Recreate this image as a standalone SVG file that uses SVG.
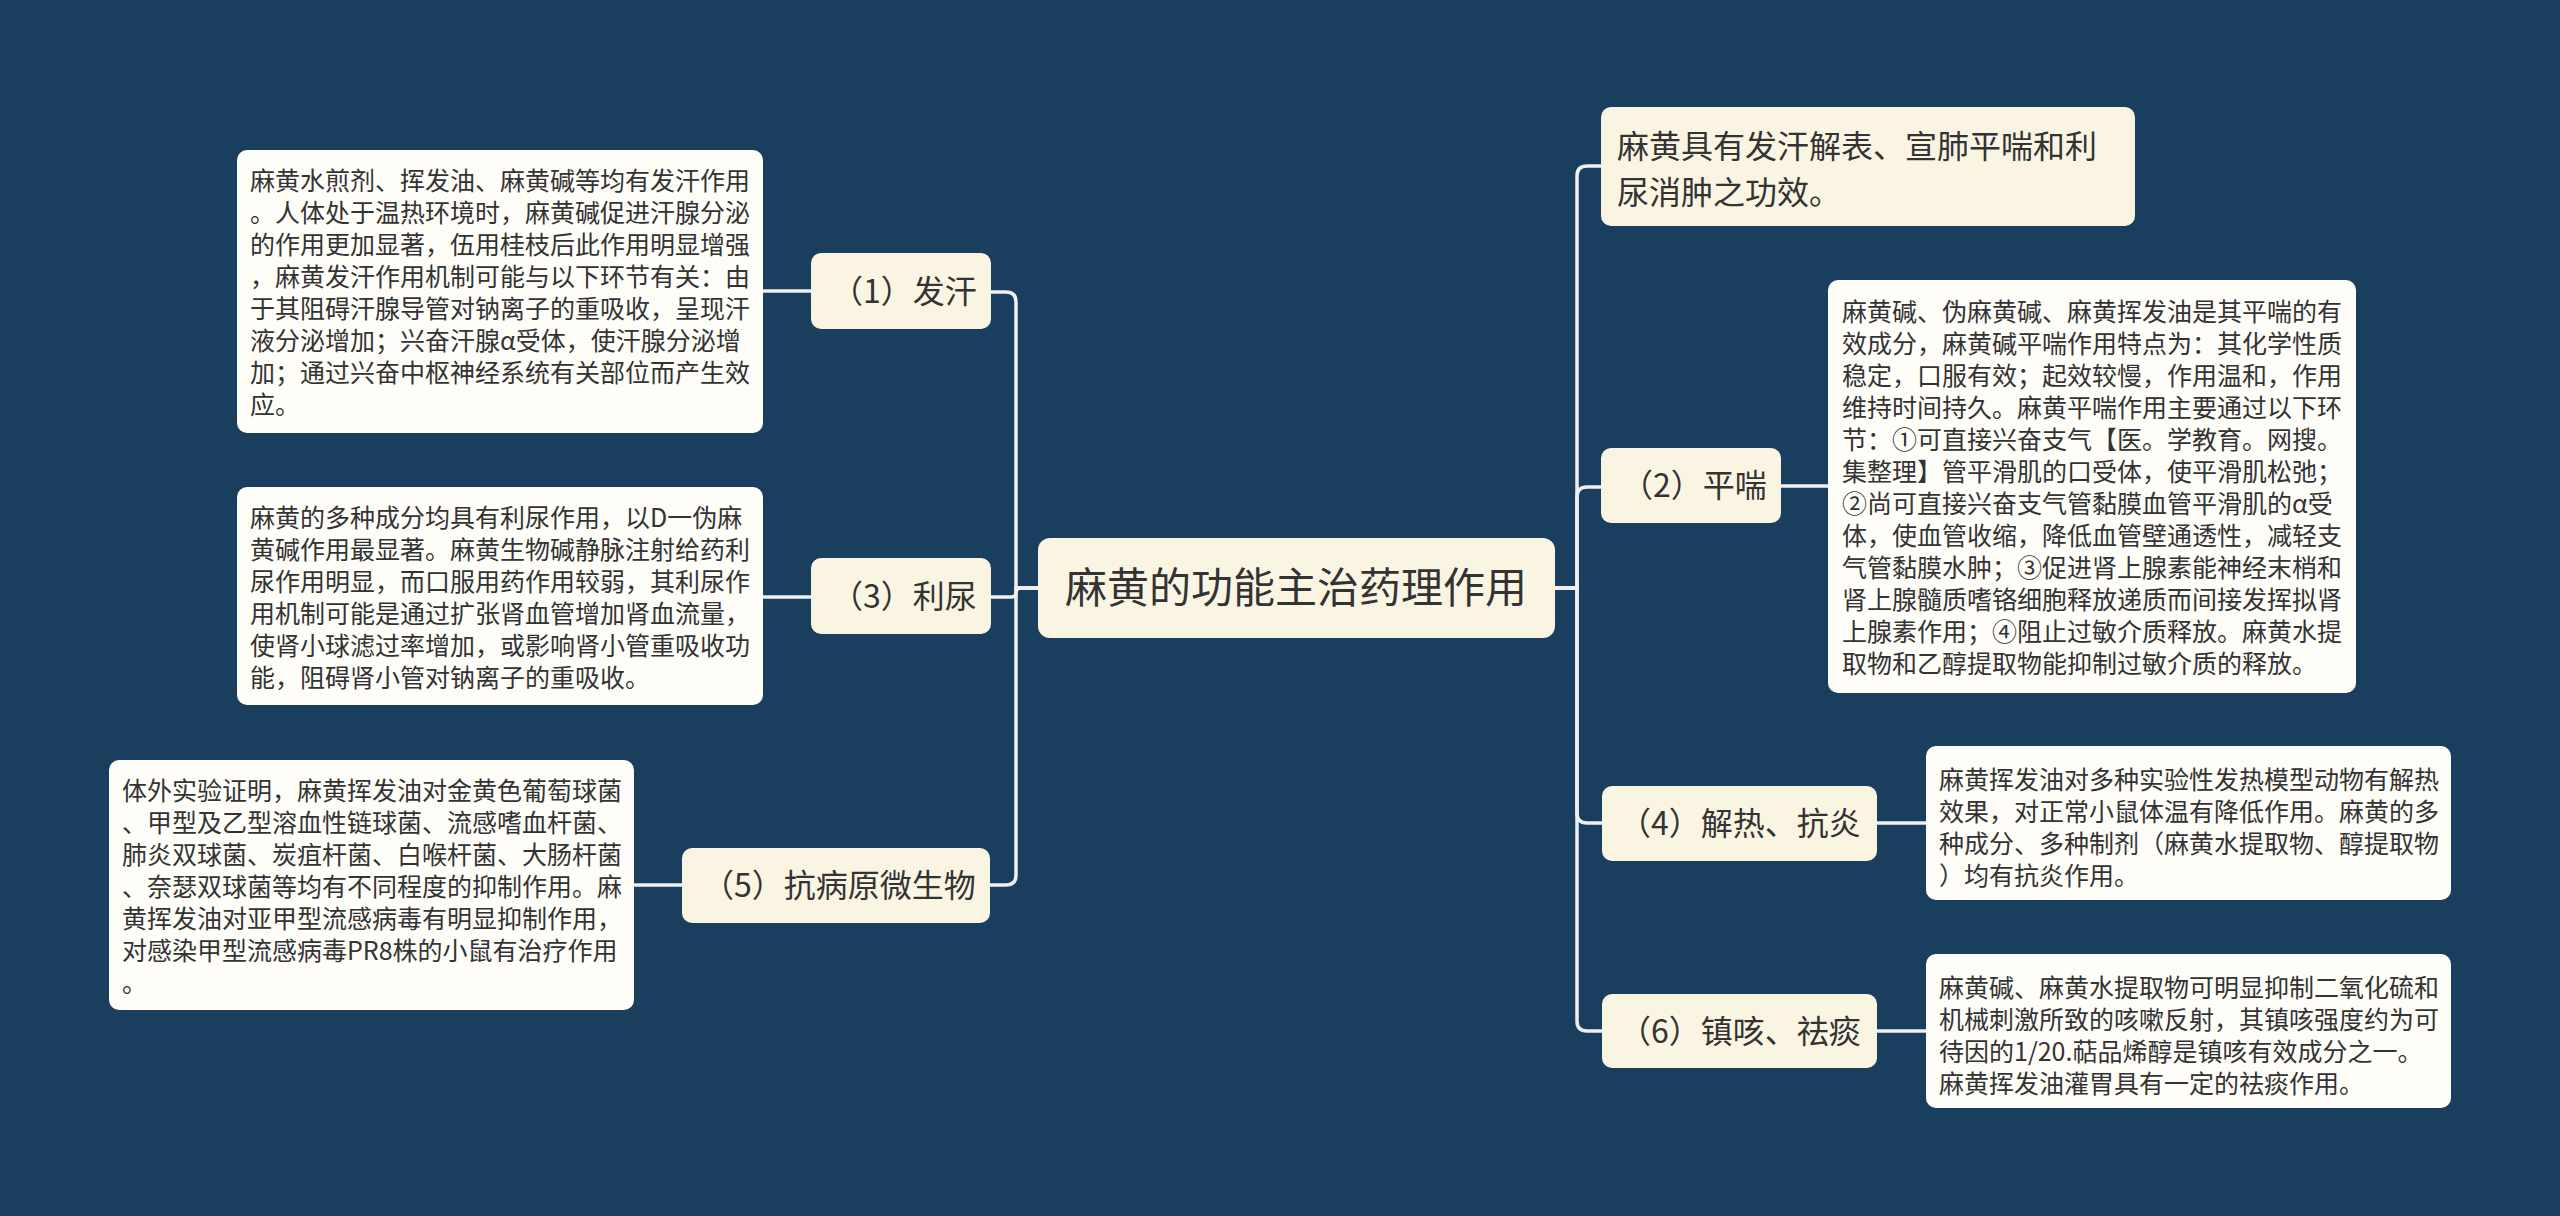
<svg xmlns="http://www.w3.org/2000/svg" width="2560" height="1216" viewBox="0 0 2560 1216">
<style>
.bg{fill:#1a3e5e}
.topic{fill:#faf5e3}
.detail{fill:#fefdf8}
.conn{fill:none;stroke:#eef0f2;stroke-width:3.5;stroke-linecap:round}
text{font-family:"Noto Sans CJK SC","Noto Sans",sans-serif;fill:#333333}
.t42{font-size:42px}
.t32{font-size:32px}
.t25{font-size:25px}
</style>
<rect class="bg" x="0" y="0" width="2560" height="1216"/>
<g id="connectors">
<path class="conn" d="M1038 588 H1016 V302 Q1016 292 1006 292 H991"/>
<path class="conn" d="M1038 588 H1021 Q1016 588 1016 593 Q1016 597 1011 597 H991"/>
<path class="conn" d="M1038 588 H1016 V875 Q1016 885 1006 885 H990"/>
<path class="conn" d="M1555 588 H1577 V176 Q1577 166 1587 166 H1601"/>
<path class="conn" d="M1555 588 H1577 V497 Q1577 487 1587 487 H1601"/>
<path class="conn" d="M1555 588 H1577 V813 Q1577 823 1587 823 H1602"/>
<path class="conn" d="M1555 588 H1577 V1021 Q1577 1031 1587 1031 H1602"/>
<path class="conn" d="M811 291 H763"/>
<path class="conn" d="M811 597 H763"/>
<path class="conn" d="M682 885 H634"/>
<path class="conn" d="M1781 486 H1828"/>
<path class="conn" d="M1877 823 H1926"/>
<path class="conn" d="M1877 1031 H1926"/>
</g>
<g id="root">
<rect class="topic" x="1038" y="538" width="517" height="100" rx="12"/>
<text class="t42" x="1296" y="603" text-anchor="middle">麻黄的功能主治药理作用</text>
</g>
<g id="n1">
<rect class="topic" x="811" y="253" width="180" height="76" rx="10"/>
<text class="t32" x="831" y="303">（1）发汗</text>
</g>
<g id="n1d">
<rect class="detail" x="237" y="150" width="526" height="283" rx="10"/>
<text class="t25">
<tspan x="250" y="190">麻黄水煎剂、挥发油、麻黄碱等均有发汗作用</tspan>
<tspan x="250" y="222">。人体处于温热环境时，麻黄碱促进汗腺分泌</tspan>
<tspan x="250" y="254">的作用更加显著，伍用桂枝后此作用明显增强</tspan>
<tspan x="250" y="286">，麻黄发汗作用机制可能与以下环节有关：由</tspan>
<tspan x="250" y="318">于其阻碍汗腺导管对钠离子的重吸收，呈现汗</tspan>
<tspan x="250" y="350">液分泌增加；兴奋汗腺α受体，使汗腺分泌增</tspan>
<tspan x="250" y="382">加；通过兴奋中枢神经系统有关部位而产生效</tspan>
<tspan x="250" y="414">应。</tspan>
</text>
</g>
<g id="n3">
<rect class="topic" x="811" y="558" width="180" height="76" rx="10"/>
<text class="t32" x="831" y="608">（3）利尿</text>
</g>
<g id="n3d">
<rect class="detail" x="237" y="487" width="526" height="218" rx="10"/>
<text class="t25">
<tspan x="250" y="527">麻黄的多种成分均具有利尿作用，以D一伪麻</tspan>
<tspan x="250" y="559">黄碱作用最显著。麻黄生物碱静脉注射给药利</tspan>
<tspan x="250" y="591">尿作用明显，而口服用药作用较弱，其利尿作</tspan>
<tspan x="250" y="623">用机制可能是通过扩张肾血管增加肾血流量，</tspan>
<tspan x="250" y="655">使肾小球滤过率增加，或影响肾小管重吸收功</tspan>
<tspan x="250" y="687">能，阻碍肾小管对钠离子的重吸收。</tspan>
</text>
</g>
<g id="n5">
<rect class="topic" x="682" y="848" width="308" height="75" rx="10"/>
<text class="t32" x="702" y="897">（5）抗病原微生物</text>
</g>
<g id="n5d">
<rect class="detail" x="109" y="760" width="525" height="250" rx="10"/>
<text class="t25">
<tspan x="122" y="800">体外实验证明，麻黄挥发油对金黄色葡萄球菌</tspan>
<tspan x="122" y="832">、甲型及乙型溶血性链球菌、流感嗜血杆菌、</tspan>
<tspan x="122" y="864">肺炎双球菌、炭疽杆菌、白喉杆菌、大肠杆菌</tspan>
<tspan x="122" y="896">、奈瑟双球菌等均有不同程度的抑制作用。麻</tspan>
<tspan x="122" y="928">黄挥发油对亚甲型流感病毒有明显抑制作用，</tspan>
<tspan x="122" y="960">对感染甲型流感病毒PR8株的小鼠有治疗作用</tspan>
<tspan x="122" y="992">。</tspan>
</text>
</g>
<g id="n0">
<rect class="topic" x="1601" y="107" width="534" height="119" rx="10"/>
<text class="t32">
<tspan x="1617" y="158">麻黄具有发汗解表、宣肺平喘和利</tspan>
<tspan x="1617" y="204">尿消肿之功效。</tspan>
</text>
</g>
<g id="n2">
<rect class="topic" x="1601" y="448" width="180" height="75" rx="10"/>
<text class="t32" x="1621" y="497">（2）平喘</text>
</g>
<g id="n2d">
<rect class="detail" x="1828" y="280" width="528" height="413" rx="10"/>
<text class="t25">
<tspan x="1842" y="321">麻黄碱、伪麻黄碱、麻黄挥发油是其平喘的有</tspan>
<tspan x="1842" y="353">效成分，麻黄碱平喘作用特点为：其化学性质</tspan>
<tspan x="1842" y="385">稳定，口服有效；起效较慢，作用温和，作用</tspan>
<tspan x="1842" y="417">维持时间持久。麻黄平喘作用主要通过以下环</tspan>
<tspan x="1842" y="449">节：①可直接兴奋支气【医。学教育。网搜。</tspan>
<tspan x="1842" y="481">集整理】管平滑肌的口受体，使平滑肌松弛；</tspan>
<tspan x="1842" y="513">②尚可直接兴奋支气管黏膜血管平滑肌的α受</tspan>
<tspan x="1842" y="545">体，使血管收缩，降低血管壁通透性，减轻支</tspan>
<tspan x="1842" y="577">气管黏膜水肿；③促进肾上腺素能神经末梢和</tspan>
<tspan x="1842" y="609">肾上腺髓质嗜铬细胞释放递质而间接发挥拟肾</tspan>
<tspan x="1842" y="641">上腺素作用；④阻止过敏介质释放。麻黄水提</tspan>
<tspan x="1842" y="673">取物和乙醇提取物能抑制过敏介质的释放。</tspan>
</text>
</g>
<g id="n4">
<rect class="topic" x="1602" y="786" width="275" height="75" rx="10"/>
<text class="t32" x="1619" y="835">（4）解热、抗炎</text>
</g>
<g id="n4d">
<rect class="detail" x="1926" y="746" width="525" height="154" rx="10"/>
<text class="t25">
<tspan x="1939" y="789">麻黄挥发油对多种实验性发热模型动物有解热</tspan>
<tspan x="1939" y="821">效果，对正常小鼠体温有降低作用。麻黄的多</tspan>
<tspan x="1939" y="853">种成分、多种制剂（麻黄水提取物、醇提取物</tspan>
<tspan x="1939" y="885">）均有抗炎作用。</tspan>
</text>
</g>
<g id="n6">
<rect class="topic" x="1602" y="994" width="275" height="74" rx="10"/>
<text class="t32" x="1619" y="1043">（6）镇咳、祛痰</text>
</g>
<g id="n6d">
<rect class="detail" x="1926" y="954" width="525" height="154" rx="10"/>
<text class="t25">
<tspan x="1939" y="997">麻黄碱、麻黄水提取物可明显抑制二氧化硫和</tspan>
<tspan x="1939" y="1029">机械刺激所致的咳嗽反射，其镇咳强度约为可</tspan>
<tspan x="1939" y="1061">待因的1/20.萜品烯醇是镇咳有效成分之一。</tspan>
<tspan x="1939" y="1093">麻黄挥发油灌胃具有一定的祛痰作用。</tspan>
</text>
</g>
</svg>
